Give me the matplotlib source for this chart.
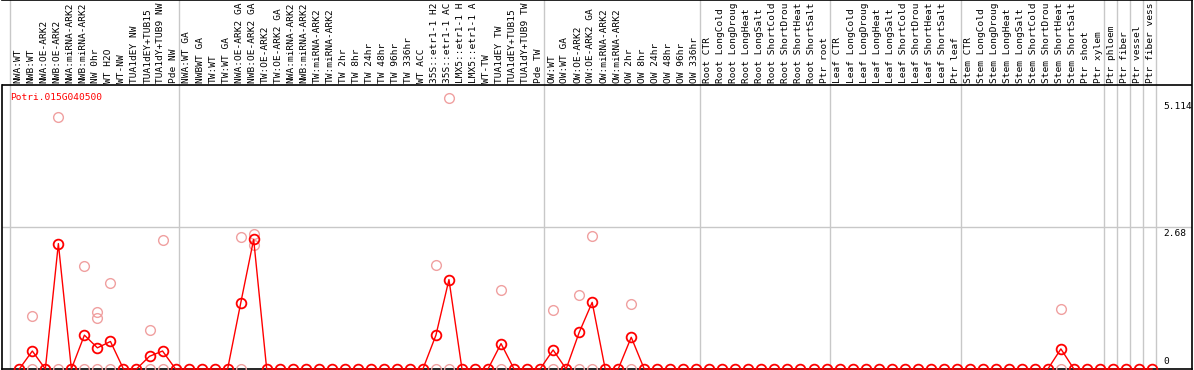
import numpy as np
import matplotlib
matplotlib.use('Agg')
import matplotlib.pyplot as plt

# sample names (as truncated in the picture)
samples = [
    'NWA:WT', 'NWB:WT', 'NWA:OE-ARK2', 'NWB:OE-ARK2', 'NWA:miRNA-ARK2', 'NWB:miRNA-ARK2',
    'NW 0hr', 'WT H2O', 'WT-NW', 'TUA1dEY NW', 'TUA1dEY+TUB15', 'TUA1dY+TUB9 NW', 'Pde NW',
    'NWA:WT GA', 'NWBWT GA', 'TW:WT', 'TW:WT GA', 'NWA:OE-ARK2 GA', 'NWB:OE-ARK2 GA',
    'TW:OE-ARK2', 'TW:OE-ARK2 GA', 'NWA:miRNA-ARK2', 'NWB:miRNA-ARK2', 'TW:miRNA-ARK2',
    'TW:miRNA-ARK2', 'TW 2hr', 'TW 8hr', 'TW 24hr', 'TW 48hr', 'TW 96hr', 'TW 336hr',
    'WT ACC', '35S::etr1-1 H2', '35S::etr1-1 AC', 'LMX5::etr1-1 H', 'LMX5::etr1-1 A',
    'WT-TW', 'TUA1dEY TW', 'TUA1dEY+TUB15', 'TUA1dY+TUB9 TW', 'Pde TW',
    'OW:WT', 'OW:WT GA', 'OW:OE-ARK2', 'OW:OE-ARK2 GA', 'OW:miRNA-ARK2', 'OW:miRNA-ARK2',
    'OW 2hr', 'OW 8hr', 'OW 24hr', 'OW 48hr', 'OW 96hr', 'OW 336hr',
    'Root CTR', 'Root LongCold', 'Root LongDroug', 'Root LongHeat', 'Root LongSalt',
    'Root ShortCold', 'Root ShortDrou', 'Root ShortHeat', 'Root ShortSalt', 'Ptr root',
    'Leaf CTR', 'Leaf LongCold', 'Leaf LongDroug', 'Leaf LongHeat', 'Leaf LongSalt',
    'Leaf ShortCold', 'Leaf ShortDrou', 'Leaf ShortHeat', 'Leaf ShortSalt', 'Ptr leaf',
    'Stem CTR', 'Stem LongCold', 'Stem LongDroug', 'Stem LongHeat', 'Stem LongSalt',
    'Stem ShortCold', 'Stem ShortDrou', 'Stem ShortHeat', 'Stem ShortSalt', 'Ptr shoot',
    'Ptr xylem', 'Ptr phloem', 'Ptr fiber', 'Ptr vessel', 'Ptr fiber vess',
]

# mean expression per sample (non-zero ones, rest are 0)
mean_nonzero = {1: 0.34, 3: 2.37, 5: 0.64, 6: 0.40, 7: 0.52, 10: 0.24, 11: 0.34,
                17: 1.24, 18: 2.45, 32: 0.64, 33: 1.69, 37: 0.48, 41: 0.36,
                43: 0.69, 44: 1.26, 47: 0.60, 80: 0.38}

# individual replicates (sample index, value)
rep_idx = [1, 1, 3, 3, 5, 5, 6, 6, 6, 7, 7, 10, 10, 11, 11, 17, 17, 18, 18,
           32, 32, 33, 33, 37, 37, 41, 41, 43, 43, 44, 44, 47, 47, 80, 80]
rep_val = [1.01, 0, 4.77, 0, 1.94, 0, 1.075, 0.96, 0, 1.62, 0, 0.74, 0, 2.43, 0,
           2.50, 0, 2.55, 2.34, 1.96, 0, 5.114, 0, 1.49, 0, 1.11, 0, 1.40, 0,
           2.52, 0, 1.23, 0, 1.14, 0]

# group boundaries (index of first sample in each block)
group_starts = [0, 13, 41, 53, 63, 73, 84, 85, 86, 87, 88]

tick_vals = [5.114, 2.68, 0]
gene = 'Potri.015G040500'

means = np.zeros(len(samples))
for k, v in mean_nonzero.items():
    means[k] = v
x = np.arange(len(samples))

font = dict(family='DejaVu Sans Mono', fontsize=6.8)
gray = '#c8c8c8'
header_y = 5.37
ytop = 6.975

fig = plt.figure(figsize=(11.94, 3.70), dpi=100)
ax = fig.add_axes([2 / 1194, 1 / 370, 1190 / 1194, 369 / 370])
ax.set_xlim(-1.329, 90.07)
ax.set_ylim(0, ytop)
ax.set_xticks([])
ax.set_yticks([])

for s in ['top', 'right', 'bottom']:
    ax.spines[s].set_linewidth(1.2)
ax.spines['left'].set_bounds(0, header_y)
ax.spines['left'].set_linewidth(1.2)

# grid / separators
for g in group_starts:
    ax.axvline(g - 0.71, color=gray, lw=1, zorder=1)
ax.axhline(2.68, color=gray, lw=1, zorder=1)
ax.axhline(header_y, color='black', lw=1.2, zorder=2)

# replicates, line, means
ax.plot(rep_idx, rep_val, ls='none', marker='o', ms=7, mfc='none',
        mec='#f0a0a0', mew=1.0, zorder=3, clip_on=False)
ax.plot(x, means, color='red', lw=1.0, marker='o', ms=7, mfc='none',
        mec='red', mew=1.3, zorder=4, clip_on=False)

# sample labels
for i, name in enumerate(samples):
    ax.text(i - 0.12, header_y + 0.03, name, rotation=90, ha='center', va='bottom',
            color='black', **font)

ax.text(-0.71, 5.14, gene, color='red', ha='left', va='center', **font)

# value labels on the right
tx = (1163 - 2) / 1190
trans = ax.get_yaxis_transform()
ax.text(tx, tick_vals[0] - 0.06, '5.114', transform=trans, ha='left', va='top', **font)
ax.text(tx, tick_vals[1] - 0.03, '2.68', transform=trans, ha='left', va='top', **font)
ax.text(tx, tick_vals[2] + 0.05, '0', transform=trans, ha='left', va='bottom', **font)

fig.savefig('out.png', dpi=100)
